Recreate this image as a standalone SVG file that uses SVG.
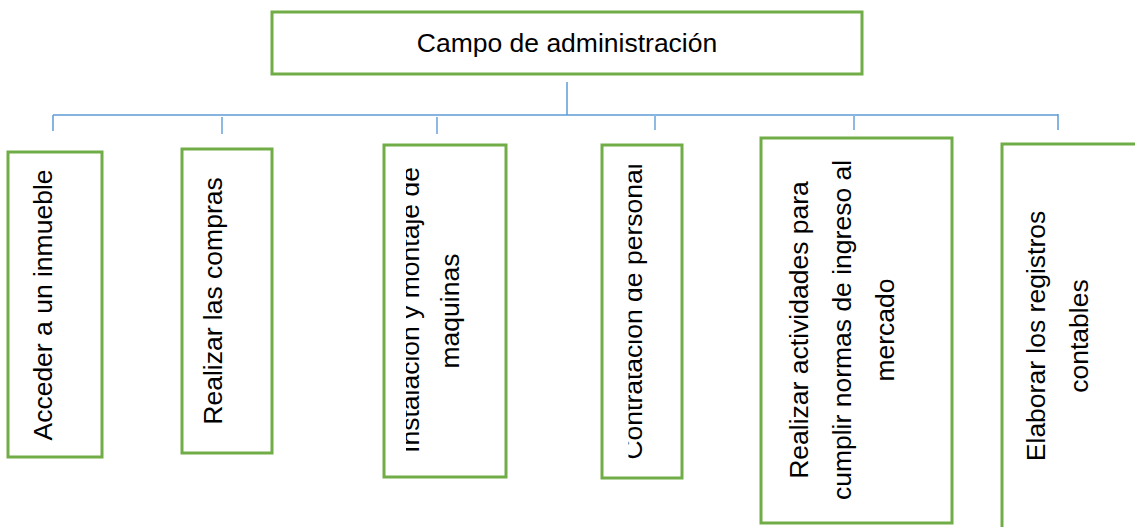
<svg xmlns="http://www.w3.org/2000/svg" width="1135" height="527" viewBox="0 0 1135 527">
<style>
.box{fill:#fff;stroke:#70AD47;stroke-width:3}
.t{font-family:"Liberation Sans",Arial,sans-serif;font-size:26.5px;fill:#000;text-anchor:middle}
.ln{stroke:#5B9BD5;stroke-width:1.5;fill:none}
.dr{stroke:#8DB9E3;stroke-width:2;fill:none}
</style>
<defs>
<clipPath id="c3"><rect x="406" y="140" width="110" height="340"/></clipPath>
<clipPath id="c4"><rect x="628.5" y="140" width="70" height="340"/></clipPath>
</defs>
<rect width="1135" height="527" fill="#fff"/>
<g id="connectors">
<line class="ln" x1="567" y1="82" x2="567" y2="115"/>
<line class="ln" x1="53" y1="115" x2="1058" y2="115"/>
<line class="ln" x1="53" y1="115" x2="53" y2="131"/>
<line class="dr" x1="222" y1="117" x2="222" y2="134"/>
<line class="dr" x1="437" y1="117" x2="437" y2="134"/>
<line class="dr" x1="655" y1="115" x2="655" y2="130"/>
<line class="dr" x1="854" y1="115" x2="854" y2="130"/>
<line class="ln" x1="1058" y1="114" x2="1058" y2="130"/>
</g>
<g id="root">
<rect class="box" x="272" y="12" width="590" height="62"/>
<text class="t" x="567" y="52" font-size="26">Campo de administración</text>
</g>
<g id="n1">
<rect class="box" x="8" y="152" width="94" height="305"/>
<text class="t" transform="translate(52,305) rotate(-90)">Acceder a un inmueble</text>
</g>
<g id="n2">
<rect class="box" x="182" y="149" width="90" height="304"/>
<text class="t" transform="translate(222,301) rotate(-90)">Realizar las compras</text>
</g>
<g id="n3">
<rect class="box" x="384" y="145" width="122" height="332"/>
<g clip-path="url(#c3)">
<text class="t" transform="translate(419,310) rotate(-90)">Instalacion y montaje de</text>
</g>
<text class="t" transform="translate(459,311) rotate(-90)">maquinas</text>
</g>
<g id="n4">
<rect class="box" x="602" y="145" width="80" height="333"/>
<g clip-path="url(#c4)">
<text class="t" transform="translate(642,311.5) rotate(-90)">Contratacion de personal</text>
</g>
</g>
<g id="n5">
<rect class="box" x="761" y="138" width="191" height="385"/>
<text class="t" transform="translate(808,330) rotate(-90)">Realizar actividades para</text>
<text class="t" transform="translate(851,330) rotate(-90)">cumplir normas de ingreso al</text>
<text class="t" transform="translate(894,330) rotate(-90)">mercado</text>
</g>
<g id="n6">
<rect class="box" x="1002" y="144" width="145" height="390"/>
<text class="t" transform="translate(1045,336) rotate(-90)">Elaborar los registros</text>
<text class="t" transform="translate(1088,336) rotate(-90)">contables</text>
</g>
</svg>
